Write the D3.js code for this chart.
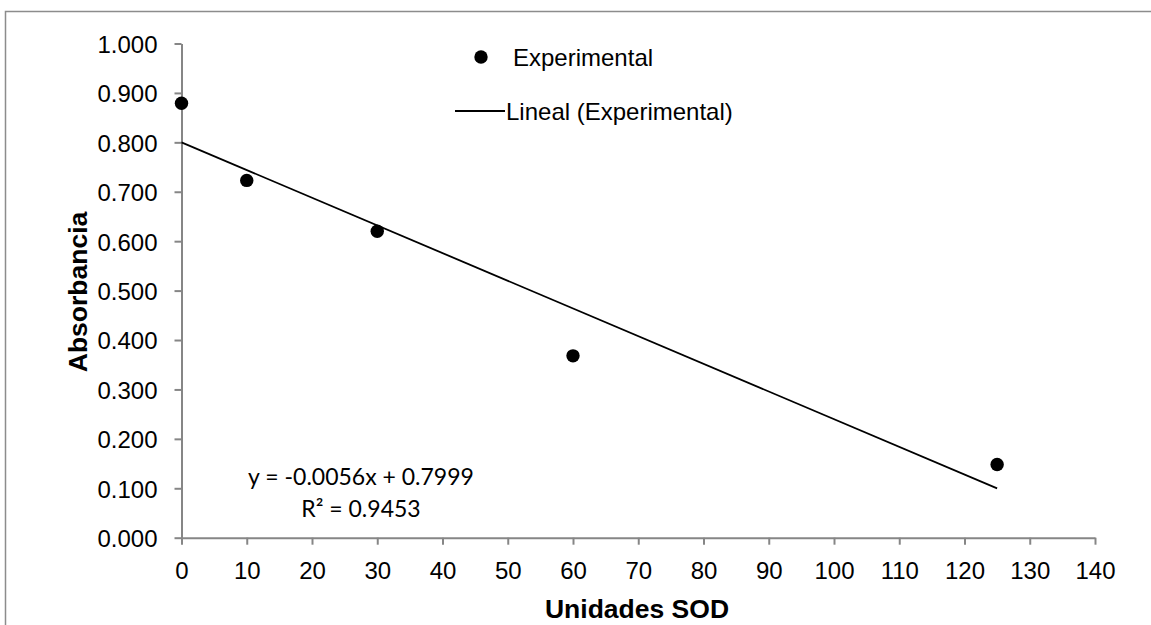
<!DOCTYPE html>
<html>
<head>
<meta charset="utf-8">
<script src="https://cdn.jsdelivr.net/npm/d3@7"></script>
<style>
  html, body { margin: 0; padding: 0; background: #fff; }
  svg { display: block; }
</style>
</head>
<body>
<svg id="chart" width="1151" height="625"></svg>
<script>
// ---- data ----
const unidadesSOD = [0, 10, 30, 60, 125];
const absorbancia = [0.879, 0.723, 0.620, 0.368, 0.148];
const xTicks = [0, 10, 20, 30, 40, 50, 60, 70, 80, 90, 100, 110, 120, 130, 140];
const yTicks = [0, 0.1, 0.2, 0.3, 0.4, 0.5, 0.6, 0.7, 0.8, 0.9, 1.0];
const trendSlope = -0.0056;
const trendIntercept = 0.7999;
const equationText = "y = -0.0056x + 0.7999";
const r2Text = "R² = 0.9453";
const seriesName = "Experimental";
const trendName = "Lineal (Experimental)";
const xTitle = "Unidades SOD";
const yTitle = "Absorbancia";

const svg = d3.select("#chart");
const axisColor = "#868686";
const font = "'Liberation Sans', Arial, sans-serif";

// outer chart border (left & top visible)
svg.append("rect")
  .attr("x", 5.5).attr("y", 11.5)
  .attr("width", 1160).attr("height", 640)
  .attr("fill", "none").attr("stroke", "#8c8c8c").attr("stroke-width", 1.5);

const x = d3.scaleLinear().domain([0, 140]).range([181.5, 1095]);
const y = d3.scaleLinear().domain([0, 1]).range([537.7, 43.5]);

// x axis
const xAxis = d3.axisBottom(x).tickValues(xTicks).tickFormat(d3.format("d"))
  .tickSizeInner(7).tickSizeOuter(0).tickPadding(17);
const gx = svg.append("g").attr("transform", `translate(0,${y(0)})`).call(xAxis);
gx.select(".domain").attr("stroke", axisColor).attr("stroke-width", 2);
gx.selectAll(".tick line").attr("stroke", axisColor).attr("stroke-width", 2);
gx.selectAll(".tick text").attr("fill", "#000").style("font-family", font).style("font-size", "24px");

// y axis
const yAxis = d3.axisLeft(y).tickValues(yTicks).tickFormat(d3.format(".3f"))
  .tickSizeInner(7).tickSizeOuter(0).tickPadding(17);
const gy = svg.append("g").attr("transform", `translate(${x(0)},0)`).call(yAxis);
gy.select(".domain").attr("stroke", axisColor).attr("stroke-width", 2);
gy.selectAll(".tick line").attr("stroke", axisColor).attr("stroke-width", 2);
gy.selectAll(".tick text").attr("fill", "#000").attr("dy", "0.37em")
  .style("font-family", font).style("font-size", "24px");

// trend line
const xMin = d3.min(unidadesSOD), xMax = d3.max(unidadesSOD);
const trendPts = [xMin, xMax].map(v => [v, trendIntercept + trendSlope * v]);
svg.append("path")
  .attr("d", d3.line().x(d => x(d[0])).y(d => y(d[1]))(trendPts))
  .attr("stroke", "#000").attr("stroke-width", 1.8).attr("fill", "none");

// points
svg.append("g").selectAll("circle")
  .data(unidadesSOD.map((v, i) => [v, absorbancia[i]]))
  .join("circle")
  .attr("cx", d => x(d[0])).attr("cy", d => y(d[1]))
  .attr("r", 6.7).attr("fill", "#000");

// legend
const lg = svg.append("g");
lg.append("circle").attr("cx", 481).attr("cy", 57).attr("r", 6.7).attr("fill", "#000");
lg.append("text").attr("x", 513).attr("y", 65.5).text(seriesName)
  .style("font-family", font).style("font-size", "24px").attr("fill", "#000");
lg.append("line").attr("x1", 455).attr("x2", 505).attr("y1", 111).attr("y2", 111)
  .attr("stroke", "#000").attr("stroke-width", 1.8);
lg.append("text").attr("x", 506).attr("y", 119.5).text(trendName)
  .style("font-family", font).style("font-size", "24px").attr("fill", "#000");

// equation
const eqFont = "Lato, 'Open Sans', sans-serif";
svg.append("text").attr("x", 361).attr("y", 485).attr("text-anchor", "middle")
  .text(equationText).style("font-family", eqFont).style("font-size", "23px").attr("fill", "#000");
svg.append("text").attr("x", 361).attr("y", 517).attr("text-anchor", "middle")
  .text(r2Text).style("font-family", eqFont).style("font-size", "23px").attr("fill", "#000");

// axis titles
svg.append("text").attr("x", 637).attr("y", 618).attr("text-anchor", "middle")
  .text(xTitle).style("font-family", font).style("font-size", "26.5px").style("font-weight", "bold").attr("fill", "#000");
svg.append("text").attr("transform", "translate(87,292) rotate(-90)").attr("text-anchor", "middle")
  .text(yTitle).style("font-family", font).style("font-size", "26.5px").style("font-weight", "bold").attr("fill", "#000");
</script>
</body>
</html>
